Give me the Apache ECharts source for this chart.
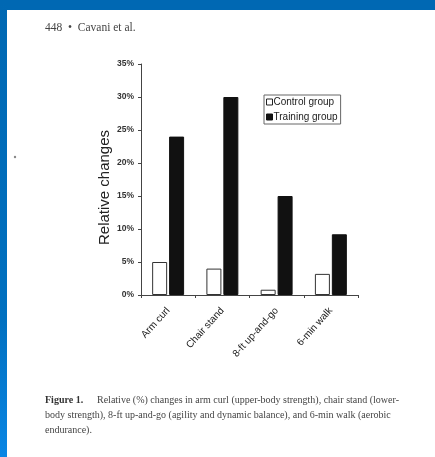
<!DOCTYPE html>
<html>
<head>
<meta charset="utf-8">
<script src="https://cdn.jsdelivr.net/npm/echarts@6/dist/echarts.min.js"></script>
<style>
html,body{margin:0;padding:0;background:#fff;}
#c{width:435px;height:457px;}
</style>
</head>
<body>
<div id="c"></div>
<script>
var categories = ['Arm curl', 'Chair stand', '8-ft up-and-go', '6-min walk'];
var controlGroup = [5, 4, 0.8, 3.2];
var trainingGroup = [24, 30, 15, 9.2];
var yTicks = [0, 5, 10, 15, 20, 25, 30, 35];
var seriesNames = ['Control group', 'Training group'];
var headerText = '448  \u2022  Cavani et al.';
var captionLines = [
  'Relative (%) changes in arm curl (upper-body strength), chair stand (lower-',
  'body strength), 8-ft up-and-go (agility and dynamic balance), and 6-min walk (aerobic',
  'endurance).'
];

var chart = echarts.init(document.getElementById('c'), null, {renderer: 'canvas'});
var serif = '"Liberation Serif", "DejaVu Serif", serif';
var sans = '"Liberation Sans", Arial, sans-serif';

chart.setOption({
  backgroundColor: '#ffffff',
  animation: false,
  grid: {left: 141, top: 64, width: 217, height: 231, containLabel: false},
  legend: {
    orient: 'vertical',
    left: 264, top: 95,
    padding: [2, 3, 2, 2],
    itemGap: 5,
    itemWidth: 6, itemHeight: 6,
    borderColor: '#666', borderWidth: 1,
    icon: 'rect',
    textStyle: {fontFamily: sans, fontSize: 10, color: '#222', padding: [0, 0, 0, -4]},
    data: [
      {name: seriesNames[0], itemStyle: {color: '#fff', borderColor: '#222', borderWidth: 1}},
      {name: seriesNames[1], itemStyle: {color: '#111', borderColor: '#111', borderWidth: 1}}
    ]
  },
  xAxis: {
    type: 'category',
    data: categories,
    axisLine: {lineStyle: {color: '#444', width: 1}},
    axisTick: {show: true, length: 3, lineStyle: {color: '#444'}},
    axisLabel: {interval: 0, rotate: 48, margin: 14, fontFamily: sans, fontSize: 10, color: '#222'}
  },
  yAxis: {
    type: 'value',
    min: yTicks[0], max: yTicks[yTicks.length - 1], interval: 5,
    name: 'Relative changes',
    nameLocation: 'middle',
    nameGap: 29,
    nameTextStyle: {fontFamily: sans, fontSize: 15, color: '#222', padding: [0, 16, 0, 0]},
    splitLine: {show: false},
    axisLine: {show: true, lineStyle: {color: '#444', width: 1}},
    axisTick: {show: true, length: 3, lineStyle: {color: '#444'}},
    axisLabel: {formatter: '{value}%', margin: 7, fontFamily: sans, fontSize: 8.5, fontWeight: 'bold', color: '#333'}
  },
  series: [
    {
      name: seriesNames[0], type: 'bar', data: controlGroup,
      barWidth: 15, barGap: '13%',
      itemStyle: {color: '#fff', borderColor: '#333', borderWidth: 1}
    },
    {
      name: seriesNames[1], type: 'bar', data: trainingGroup,
      barWidth: 15, barGap: '13%',
      itemStyle: {color: '#111', borderColor: '#111', borderWidth: 1}
    }
  ],
  graphic: [
    {type: 'rect', shape: {x: 0, y: 0, width: 435, height: 10}, style: {fill: '#0068b3'}, z: 100},
    {type: 'rect', shape: {x: 0, y: 0, width: 7, height: 457},
      style: {fill: new echarts.graphic.LinearGradient(0, 0, 0, 1, [
        {offset: 0, color: '#0068b3'}, {offset: 0.7, color: '#0070c0'}, {offset: 1, color: '#0a86e4'}])}, z: 100},
    {type: 'circle', shape: {cx: 15, cy: 157, r: 1.2}, style: {fill: '#888'}},
    {type: 'text', left: 45, top: 22, style: {text: headerText, fontFamily: serif, fontSize: 11.5, fill: '#444'}},
    {type: 'text', left: 45, top: 395, style: {text: 'Figure 1.', fontFamily: serif, fontSize: 10, fontWeight: 'bold', fill: '#333'}},
    {type: 'text', left: 97, top: 395, style: {text: captionLines[0], fontFamily: serif, fontSize: 10, fill: '#444'}},
    {type: 'text', left: 45, top: 410, style: {text: captionLines[1], fontFamily: serif, fontSize: 10, fill: '#444'}},
    {type: 'text', left: 45, top: 425, style: {text: captionLines[2], fontFamily: serif, fontSize: 10, fill: '#444'}}
  ]
});
</script>
</body>
</html>
